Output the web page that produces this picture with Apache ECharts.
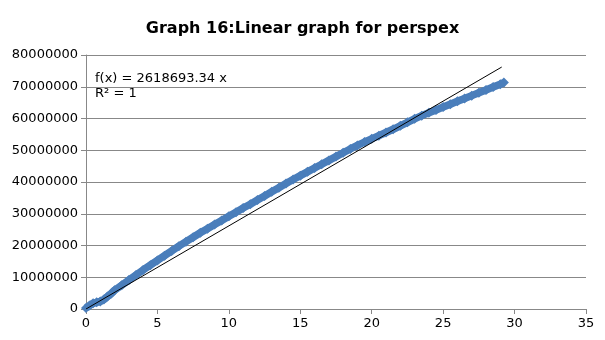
<!DOCTYPE html>
<html><head><meta charset="utf-8">
<script src="https://cdn.jsdelivr.net/npm/echarts@6/dist/echarts.min.js"></script>
<style>html,body{margin:0;padding:0;background:#fff}#c{width:605px;height:340px}</style>
</head><body><div id="c"></div>
<script>
var xValues = [0,0.25,0.5,0.75,1,1.25,1.5,1.75,2,2.5,3,3.5,4,4.5,5,5.5,6,6.5,7,7.5,8,8.5,9,9.5,10,10.5,11,11.5,12,12.5,13,13.5,14,14.5,15,15.5,16,16.5,17,17.5,18,18.5,19,19.5,20,20.5,21,21.5,22,22.5,23,23.5,24,24.5,25,25.5,26,26.5,27,27.5,28,28.5,29,29.25];
var yMillions = [0.3,1.1,1.8,2.1,2.4,3.0,3.9,4.8,5.9,7.5,9.1,10.7,12.3,13.8,15.3,16.8,18.3,19.8,21.2,22.6,24.0,25.3,26.6,27.9,29.2,30.5,31.8,33.0,34.3,35.6,36.9,38.2,39.5,40.8,42.0,43.2,44.4,45.6,46.8,48.0,49.2,50.4,51.5,52.6,53.6,54.6,55.6,56.6,57.7,58.8,59.9,60.9,61.8,62.7,63.6,64.5,65.4,66.3,67.2,68.1,69.0,69.9,70.8,71.3];
var trendX = [0, 29.1];
var trendY = [0, 76203976];
var yTicks = ['0','10000000','20000000','30000000','40000000','50000000','60000000','70000000','80000000'];
var titleText = 'Graph 16:Linear graph for perspex';
var eqText = ['f(x) = 2618693.34 x', 'R² = 1'];

var pts = xValues.map(function(x,i){return [x, yMillions[i]*1e6];});
var trend = trendX.map(function(x,i){return [x, trendY[i]];});
var font = 'DejaVu Sans';
var chart = echarts.init(document.getElementById('c'));
chart.setOption({
  animation:false,
  backgroundColor:'#fff',
  title:{text:titleText,left:'center',top:16,textStyle:{fontFamily:font,fontSize:16,fontWeight:'bold',color:'#000'}},
  grid:{left:86,right:19,top:55,bottom:31,containLabel:false},
  xAxis:{type:'value',min:0,max:35,interval:5,
    axisLine:{show:true,onZero:false,lineStyle:{color:'#888',width:1}},
    axisTick:{show:true,length:5,lineStyle:{color:'#888'}},
    splitLine:{show:false},
    axisLabel:{fontFamily:font,fontSize:13,color:'#000',margin:8}},
  yAxis:{type:'value',min:0,max:80000000,interval:10000000,
    axisLine:{show:true,lineStyle:{color:'#888',width:1}},
    axisTick:{show:true,length:5,lineStyle:{color:'#888'}},
    splitLine:{show:true,lineStyle:{color:'#888',width:1}},
    axisLabel:{fontFamily:font,fontSize:13,color:'#000',margin:8,
      formatter:function(v){var i=Math.round(v/10000000);return yTicks[i];}}},
  series:[
    {type:'scatter',data:pts,symbol:'diamond',symbolSize:10,itemStyle:{color:'#4a7ebb',opacity:1},z:2},
    {type:'line',data:pts,showSymbol:false,lineStyle:{color:'#4a7ebb',width:7.5},z:1},
    {type:'line',data:trend,showSymbol:false,lineStyle:{color:'#000',width:1},z:3}
  ],
  graphic:[
    {type:'text',left:95,top:72,style:{text:eqText[0],fontFamily:font,fontSize:13,fill:'#000'}},
    {type:'text',left:95,top:87,style:{text:eqText[1],fontFamily:font,fontSize:13,fill:'#000'}}
  ]
});
</script></body></html>
